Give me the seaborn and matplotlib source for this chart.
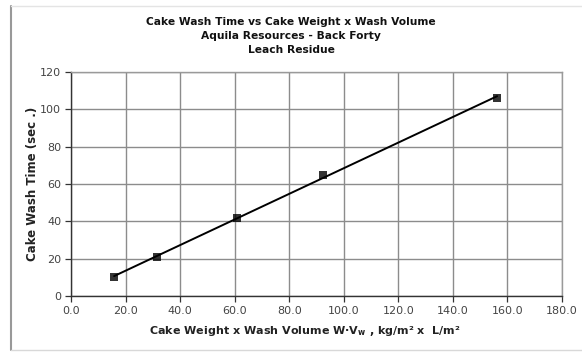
import matplotlib
matplotlib.use("Agg")
import matplotlib.pyplot as plt
from matplotlib.lines import Line2D
import seaborn as sns
import pandas as pd

# Measured cake wash data
weight_x_volume = [15.8, 31.5, 60.9, 92.4, 156.2]
wash_time = [10, 21, 42, 65, 106]

x_ticks = [0, 20, 40, 60, 80, 100, 120, 140, 160, 180]
y_ticks = [0, 20, 40, 60, 80, 100, 120]

title_lines = ["Cake Wash Time vs Cake Weight x Wash Volume",
               "Aquila Resources - Back Forty",
               "Leach Residue"]

df = pd.DataFrame({"wv": weight_x_volume, "t": wash_time})

sns.set_theme(style="white")
plt.rcParams['font.family'] = ['DejaVu Sans']

fig = plt.figure(figsize=(5.82, 3.52), dpi=100)
W, H = 582, 352
ax = fig.add_axes([71 / W, 1 - 296 / H, (562 - 71) / W, (296 - 72) / H])

# least-squares trend line plus square markers
sns.regplot(data=df, x="wv", y="t", ax=ax, ci=None, marker="s",
            scatter_kws=dict(s=32, color="black", zorder=4, linewidths=0),
            line_kws=dict(color="black", lw=1.4, zorder=3))

ax.set_xlim(0, 180)
ax.set_ylim(0, 120)
ax.set_xticks(x_ticks)
ax.set_yticks(y_ticks)
ax.set_xticklabels([f"{v:.1f}" for v in x_ticks])
ax.set_yticklabels([str(v) for v in y_ticks])
ax.grid(True, color="#8c8c8c", lw=1.0)
ax.set_axisbelow(True)

for side in ("top", "right"):
    ax.spines[side].set_color("#9a9a9a")
    ax.spines[side].set_linewidth(1.0)
for side in ("left", "bottom"):
    ax.spines[side].set_color("#333333")
    ax.spines[side].set_linewidth(1.0)

ax.tick_params(axis="both", which="major", length=4, width=0.9, color="#333333",
               labelsize=8, labelcolor="#444444", direction="out", pad=3,
               bottom=True, left=True)

ax.set_xlabel(r"Cake Weight x Wash Volume W·V$_{\mathbf{w}}$ , kg/m² x  L/m²",
              fontsize=8, fontweight="bold", color="#222222", labelpad=4)
ax.xaxis.set_label_coords(0.477, -0.125)
ax.set_ylabel("Cake Wash Time (sec .)", fontsize=8.5, fontweight="bold",
              color="#222222", labelpad=1)

fig.text(0.5, 1 - 36 / H, "\n".join(title_lines), ha="center", va="center",
         fontsize=7.7, fontweight="bold", color="#111111", linespacing=1.55)

# chart-area border
fig.add_artist(Line2D([11 / W, 11 / W], [1 - 6 / H, 1 - 350 / H],
                      transform=fig.transFigure, color="#999999", lw=1.5))
fig.add_artist(Line2D([11 / W, 1.0], [1 - 6 / H, 1 - 6 / H],
                      transform=fig.transFigure, color="#e4e4e4", lw=1.0))
fig.add_artist(Line2D([11 / W, 1.0], [1 - 350 / H, 1 - 350 / H],
                      transform=fig.transFigure, color="#d8d8d8", lw=1.0))

fig.savefig("out.png", dpi=100, facecolor="white")
